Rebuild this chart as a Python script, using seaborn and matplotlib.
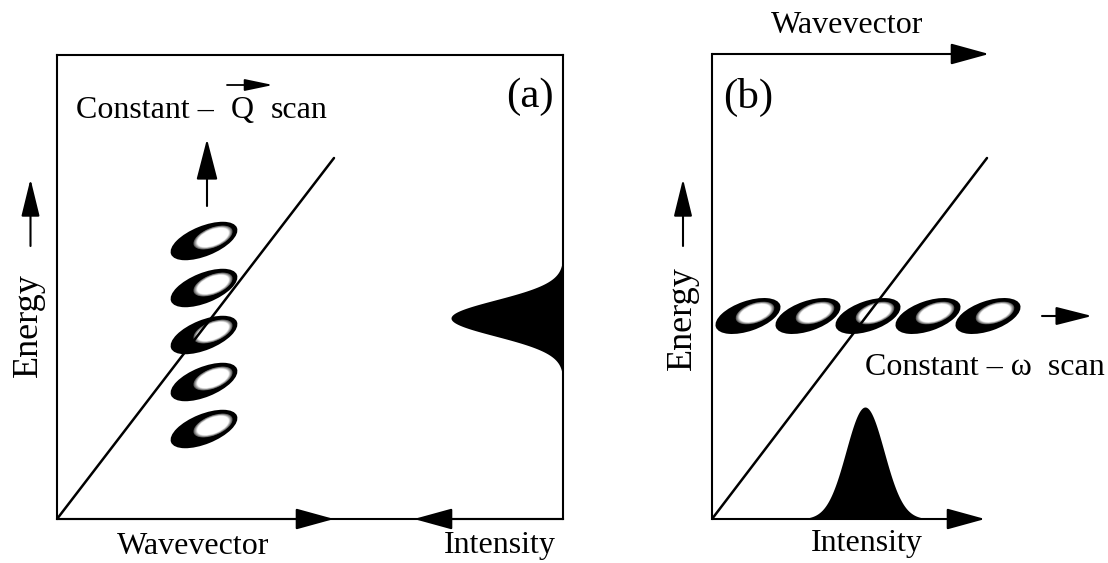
import numpy as np
import matplotlib
matplotlib.use("Agg")
import matplotlib.pyplot as plt
from matplotlib.patches import Ellipse
import seaborn as sns

# ---- values (panel units: wavevector along x, energy along y) ----
# dispersion relation end points
disp_a_q = [0.0, 2.77]
disp_a_E = [0.0, 3.61]
disp_b_q = [0.0, 2.75]
disp_b_E = [0.0, 3.61]

# constant-Q scan: resolution ellipses at fixed Q, stepped in energy
scan_a_q = 1.47
scan_a_E = [0.90, 1.37, 1.84, 2.31, 2.78]

# constant-omega scan: resolution ellipses at fixed energy, stepped in Q
scan_b_q = [0.36, 0.96, 1.56, 2.16, 2.76]
scan_b_E = 2.03

# measured peaks: centre, width (sigma), height
peak_a = dict(center=2.01, sigma=0.18, height=1.12)
peak_b = dict(center=1.53, sigma=0.19, height=1.12)

labels = dict(q="Wavevector", E="Energy", I="Intensity",
              a="(a)", b="(b)", sq="Constant \u2013", sw="Constant \u2013 \u03c9  scan")

# ---- figure ----
sns.set_style("white")
plt.rcParams["font.family"] = ["Liberation Serif", "DejaVu Serif"]
plt.rcParams["text.color"] = "black"

W, H = 1108, 563
fig = plt.figure(figsize=(W / 100, H / 100), dpi=100)

def add_panel(left, top, w, h):
    ax = fig.add_axes([left / W, 1 - (top + h) / H, w / W, h / H])
    ax.set_xlim(0, w / 100)
    ax.set_ylim(0, h / 100)
    ax.set_xticks([])
    ax.set_yticks([])
    return ax

ax_a = add_panel(57, 55, 506, 464)
ax_b = add_panel(712, 54, 390, 465)

for sp in ax_a.spines.values():
    sp.set_linewidth(1.5)
    sp.set_color("black")
for name, sp in ax_b.spines.items():
    sp.set_visible(name == "left")
    sp.set_linewidth(1.5)
    sp.set_color("black")

def arrow(ax, tail, tip, hl=1.6, hw=0.44, lw=1.5):
    ax.annotate("", xy=tip, xytext=tail, annotation_clip=False,
                arrowprops=dict(arrowstyle=f"-|>,head_length={hl},head_width={hw}",
                                mutation_scale=15, lw=lw, color="black",
                                shrinkA=0, shrinkB=0))

def resolution_ellipse(ax, x, y, a, b, ang, off, ia, ib):
    # dark outer ellipse with a light core fading in through grey
    ax.add_patch(Ellipse((x, y), 2 * a, 2 * b, angle=ang, fc="black", ec="none",
                         zorder=3, clip_on=False))
    n = 10
    for k in range(n):
        s = 1.22 - 0.24 * k / (n - 1)
        g = 0.3 + 0.7 * k / (n - 1)
        ax.add_patch(Ellipse((x + off[0], y + off[1]), 2 * ia * s, 2 * ib * s, angle=ang,
                             fc=(g, g, g), ec="none", zorder=3, clip_on=False))

def gauss(t, p):
    return p["height"] * np.exp(-0.5 * ((t - p["center"]) / p["sigma"]) ** 2)

# ---- panel (a): constant-Q scan ----
for E in scan_a_E:
    resolution_ellipse(ax_a, scan_a_q, E, 0.355, 0.15, 22, (0.09, 0.035), 0.17, 0.08)
sns.lineplot(x=disp_a_q, y=disp_a_E, ax=ax_a, color="black", lw=1.8, zorder=4)

Ea = np.linspace(0, 4.64, 600)
xr = 5.06
ax_a.fill_betweenx(Ea, xr - gauss(Ea, peak_a), xr, color="black", lw=0, zorder=2)

arrow(ax_a, (0, 0), (2.77, 0))
arrow(ax_a, (5.06, 0), (3.57, 0))
arrow(ax_a, (-0.265, 2.73), (-0.265, 3.40), hl=1.55, hw=0.38)
arrow(ax_a, (1.50, 3.13), (1.50, 3.80), hl=1.7, hw=0.44)
arrow(ax_a, (1.70, 4.34), (2.16, 4.34), hl=1.15, hw=0.24, lw=1.3)

fs = 23
ax_a.text(1.36, -0.27, labels["q"], ha="center", va="center", fontsize=fs)
ax_a.text(4.43, -0.27, labels["I"], ha="center", va="center", fontsize=fs)
ax_a.text(-0.284, 1.94, labels["E"], ha="center", va="center", rotation=90, fontsize=26)
ax_a.text(0.19, 4.01, labels["sq"], ha="left", va="baseline", fontsize=fs)
ax_a.text(1.855, 4.01, "Q", ha="center", va="baseline", fontsize=fs)
ax_a.text(2.14, 4.01, "scan", ha="left", va="baseline", fontsize=fs)
ax_a.text(4.73, 4.22, labels["a"], ha="center", va="center", fontsize=31)

# ---- panel (b): constant-omega scan ----
for q in scan_b_q:
    resolution_ellipse(ax_b, q, scan_b_E, 0.34, 0.15, 19, (0.07, 0.03), 0.165, 0.08)
sns.lineplot(x=disp_b_q, y=disp_b_E, ax=ax_b, color="black", lw=1.8, zorder=4)

qb = np.linspace(0, 2.6, 600)
ax_b.fill_between(qb, 0, gauss(qb, peak_b), color="black", lw=0, zorder=2)

arrow(ax_b, (0, 4.65), (2.77, 4.65))
arrow(ax_b, (0, 0), (2.73, 0))
arrow(ax_b, (-0.29, 2.73), (-0.29, 3.40), hl=1.55, hw=0.38)
arrow(ax_b, (3.30, scan_b_E), (3.80, scan_b_E), hl=1.5, hw=0.38)

ax_b.text(1.35, 4.94, labels["q"], ha="center", va="center", fontsize=fs)
ax_b.text(1.55, -0.24, labels["I"], ha="center", va="center", fontsize=fs)
ax_b.text(-0.30, 2.01, labels["E"], ha="center", va="center", rotation=90, fontsize=26)
ax_b.text(1.53, 1.44, labels["sw"], ha="left", va="baseline", fontsize=fs)
ax_b.text(0.36, 4.22, labels["b"], ha="center", va="center", fontsize=31)

fig.savefig("out.png", dpi=100)
